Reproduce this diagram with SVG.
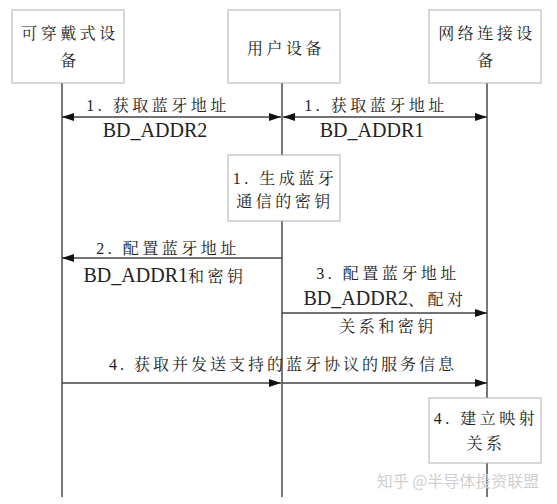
<svg xmlns="http://www.w3.org/2000/svg" width="557" height="504" viewBox="0 0 557 504">
<style>
.box{fill:#fff;stroke:#b0b0b0;stroke-width:1}
.life{stroke:#777;stroke-width:2;fill:none}
.msg{stroke:#444;stroke-width:1.5;fill:none}
.cjk{font-family:"Liberation Serif","Times New Roman","Noto Serif CJK SC","Noto Sans CJK SC",serif;font-size:16px;letter-spacing:3.5px;fill:#222;text-anchor:middle}
.lat{font-family:"Liberation Serif","Times New Roman","DejaVu Serif",serif;font-size:20px;fill:#222;text-anchor:middle}
.zh{font-family:"Noto Serif CJK SC","Noto Sans CJK SC",serif;font-size:16px;letter-spacing:3.5px}
.wm{font-family:"Noto Sans CJK SC",sans-serif;font-size:16px;fill:#d0d0d0;text-anchor:middle}
</style>
<defs>
<marker id="arr" markerUnits="userSpaceOnUse" markerWidth="13" markerHeight="9" refX="12" refY="4" orient="auto-start-reverse" viewBox="0 0 13 9">
<path d="M0,0 L12,4 L0,8 z" fill="#111"/>
</marker>
</defs>
<g id="lifelines">
<line class="life" x1="62" y1="83" x2="62" y2="497"/>
<line class="life" x1="282" y1="83" x2="282" y2="497"/>
<line class="life" x1="487" y1="83" x2="487" y2="497"/>
</g>
<g id="wearable">
<rect class="box" x="12" y="10" width="112" height="73"/>
<text class="cjk" x="70" y="39">可穿戴式设</text>
<text class="cjk" x="70" y="66">备</text>
</g>
<g id="user">
<rect class="box" x="228" y="10" width="112" height="73"/>
<text class="cjk" x="286" y="54">用户设备</text>
</g>
<g id="network">
<rect class="box" x="429" y="10" width="112" height="73"/>
<text class="cjk" x="487" y="39">网络连接设</text>
<text class="cjk" x="487" y="66">备</text>
</g>
<g id="connectors">
<line class="msg" x1="62" y1="117" x2="281" y2="117" marker-start="url(#arr)" marker-end="url(#arr)"/>
<line class="msg" x1="283" y1="117" x2="487" y2="117" marker-start="url(#arr)" marker-end="url(#arr)"/>
<line class="msg" x1="282" y1="258" x2="62" y2="258" marker-end="url(#arr)"/>
<line class="msg" x1="282" y1="313" x2="487" y2="313" marker-end="url(#arr)"/>
<line class="msg" x1="62" y1="383" x2="281" y2="383" marker-end="url(#arr)"/>
<line class="msg" x1="282" y1="383" x2="487" y2="383" marker-end="url(#arr)"/>
</g>
<g id="labels">
<text class="cjk" x="158" y="111">1. 获取蓝牙地址</text>
<text class="lat" x="155" y="137">BD_ADDR2</text>
<text class="cjk" x="376" y="111">1. 获取蓝牙地址</text>
<text class="lat" x="372" y="137">BD_ADDR1</text>
<text class="cjk" x="168" y="254">2. 配置蓝牙地址</text>
<text class="lat" x="165" y="282">BD_ADDR1<tspan class="zh">和密钥</tspan></text>
<text class="cjk" x="388" y="279">3. 配置蓝牙地址</text>
<text class="lat" x="385" y="305">BD_ADDR2<tspan class="zh">、配对</tspan></text>
<text class="cjk" x="388" y="332">关系和密钥</text>
<text class="cjk" x="283" y="370" style="letter-spacing:3px">4. 获取并发送支持的蓝牙协议的服务信息</text>
</g>
<g id="genkey">
<rect class="box" x="228" y="155" width="112" height="66"/>
<text class="cjk" x="285" y="184">1. 生成蓝牙</text>
<text class="cjk" x="285" y="207">通信的密钥</text>
</g>
<g id="mapping">
<rect class="box" x="429" y="398" width="112" height="65"/>
<text class="cjk" x="486" y="424">4. 建立映射</text>
<text class="cjk" x="486" y="449">关系</text>
</g>
<text class="wm" x="458" y="487">知乎 @半导体投资联盟</text>
</svg>
